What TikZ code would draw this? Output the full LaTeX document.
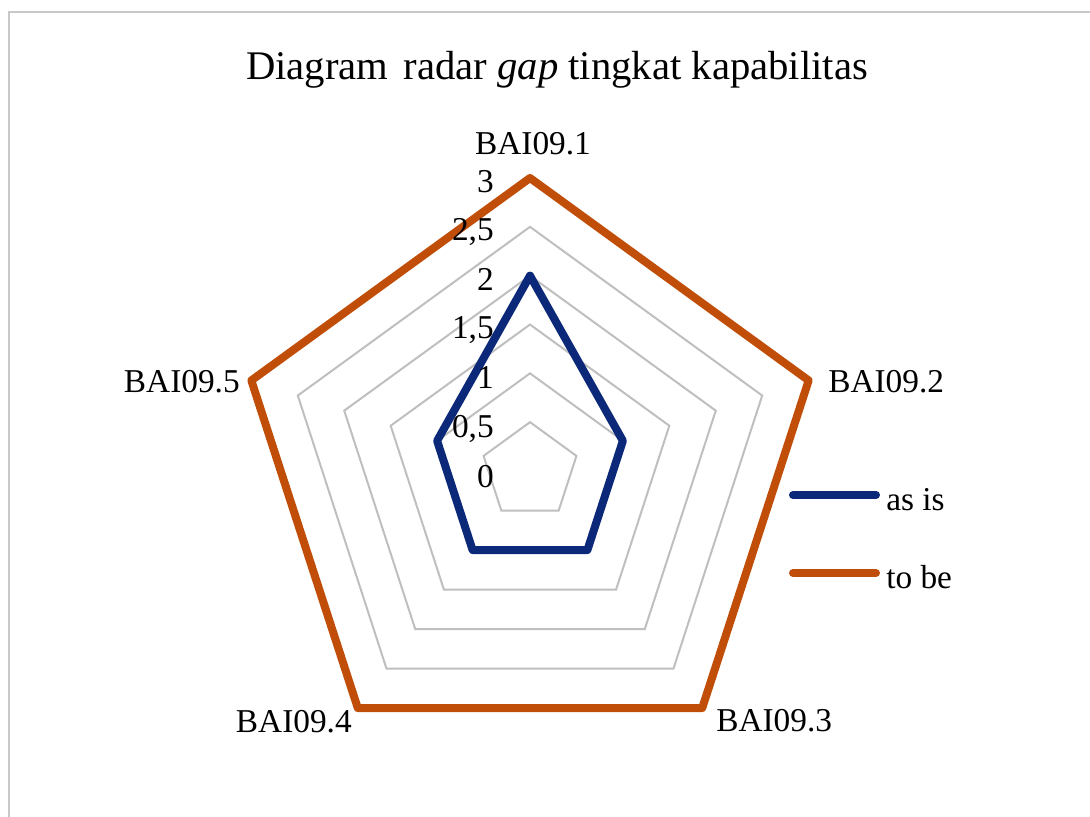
\documentclass[tikz,border=0pt]{standalone}
\usepackage{fontspec}
\setmainfont{Liberation Serif}
\usetikzlibrary{calc}
\definecolor{asiscol}{RGB}{12,40,120}
\definecolor{tobecol}{RGB}{192,78,8}
\definecolor{gridcol}{RGB}{191,191,191}
\definecolor{framecol}{RGB}{200,200,200}
\begin{document}
\begin{tikzpicture}[x=0.75pt,y=-0.75pt,
  gridline/.style={draw=gridcol, line width=1.5pt, line join=miter},
  asisline/.style={draw=asiscol, line width=6pt, line join=round, line cap=round},
  tobeline/.style={draw=tobecol, line width=6pt, line join=round, line cap=round},
  catlabel/.style={inner sep=0pt, font=\fontsize{25}{30}\selectfont},
  ticklabel/.style={inner sep=0pt, anchor=base east, font=\fontsize{25}{30}\selectfont},
  legendtext/.style={inner sep=0pt, anchor=base west, font=\fontsize{25}{30}\selectfont},
  titletext/.style={inner sep=0pt, anchor=base, font=\fontsize{30.5}{36}\selectfont}]
\useasboundingbox (0,0) rectangle (1090,817);
\fill[white] (0,0) rectangle (1090,817);
% frame
\coordinate (frameBL) at (9,817);
\coordinate (frameTL) at (9,12);
\coordinate (frameTR) at (1090,12);
\draw[framecol, line width=2.2pt] (frameBL) -- (frameTL) -- (frameTR);
% title
\node[titletext] (title) at (557,80) {Diagram\hspace{0.38em}radar \textit{gap} tingkat kapabilitas};
% chart
\coordinate (ctr) at (530,471);
\begin{scope}[shift={(ctr)}]
  \foreach \lv in {1,...,6} {
    \draw[gridline] ({-90}:{\lv*48.83}) -- ({-18}:{\lv*48.83}) -- ({54}:{\lv*48.83})
      -- ({126}:{\lv*48.83}) -- ({198}:{\lv*48.83}) -- cycle;
  }
  % to be
  \coordinate (b1) at ({-90}:293);
  \coordinate (b2) at ({-18}:293);
  \coordinate (b3) at ({54}:293);
  \coordinate (b4) at ({126}:293);
  \coordinate (b5) at ({198}:293);
  % as is
  \coordinate (a1) at ({-90}:195.33);
  \coordinate (a2) at ({-18}:97.67);
  \coordinate (a3) at ({54}:97.67);
  \coordinate (a4) at ({126}:97.67);
  \coordinate (a5) at ({198}:97.67);
\end{scope}
\draw[tobeline] (b1) -- (b2) -- (b3) -- (b4) -- (b5) -- cycle;
\draw[asisline] (a1) -- (a2) -- (a3) -- (a4) -- (a5) -- cycle;
% tick labels
\node[ticklabel] (t0) at (494,487) {0};
\node[ticklabel] (t05) at (494,437) {0,5};
\node[ticklabel] (t1) at (494,388) {1};
\node[ticklabel] (t15) at (494,338) {1,5};
\node[ticklabel] (t2) at (494,290) {2};
\node[ticklabel] (t25) at (494,240) {2,5};
\node[ticklabel] (t3) at (494,192) {3};
% category labels
\node[catlabel, anchor=base] (c1) at (533,155) {BAI09.1};
\node[catlabel, anchor=base west] (c2) at (828,392) {BAI09.2};
\node[catlabel, anchor=base west] (c3) at (716,731) {BAI09.3};
\node[catlabel, anchor=base east] (c4) at (352,732) {BAI09.4};
\node[catlabel, anchor=base east] (c5) at (240,392) {BAI09.5};
% legend
\coordinate (la1) at (793,495);
\coordinate (la2) at (876,495);
\coordinate (lb1) at (793,573);
\coordinate (lb2) at (876,573);
\draw[asisline] (la1) -- (la2);
\draw[tobeline] (lb1) -- (lb2);
\node[legendtext] (leg1) at (886,510) {as is};
\node[legendtext] (leg2) at (886,588) {to be};
\end{tikzpicture}
\end{document}
